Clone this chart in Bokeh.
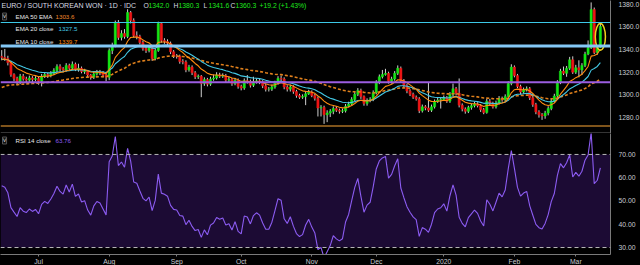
import numpy as np
from bokeh.plotting import figure
from bokeh.models import (ColumnDataSource, Span, Label, FixedTicker, Range1d,
                          BoxAnnotation, NumeralTickFormatter)
from bokeh.layouts import column
from bokeh.embed import file_html
from bokeh.resources import INLINE

# ---------------- data ----------------
closes = [1333.0, 1332.1, 1328.5, 1318.0, 1314.5, 1311.0, 1316.5, 1314.0, 1313.0, 1315.0,
          1313.5, 1314.5, 1312.0, 1316.5, 1318.0, 1317.0, 1319.0, 1321.5, 1325.0, 1323.0,
          1322.0, 1326.0, 1323.5, 1327.0, 1322.5, 1323.5, 1320.5, 1321.0, 1317.5, 1315.5,
          1318.5, 1320.0, 1319.5, 1317.5, 1315.5, 1339.1, 1343.5, 1363.8, 1350.6, 1354.1,
          1351.5, 1372.6, 1365.6, 1352.3, 1351.5, 1346.2, 1340.9, 1339.1, 1341.8, 1332.1,
          1339.1, 1362.9, 1348.0, 1347.0, 1345.5, 1338.0, 1334.5, 1334.0, 1329.5, 1329.0,
          1322.0, 1324.5, 1319.5, 1316.0, 1316.5, 1310.0, 1313.5, 1309.5, 1314.0, 1315.0,
          1317.5, 1316.5, 1317.0, 1313.0, 1313.5, 1310.0, 1313.0, 1307.5, 1306.0, 1312.5,
          1312.0, 1308.5, 1311.5, 1312.5, 1311.5, 1308.0, 1305.0, 1305.0, 1307.0, 1310.5,
          1314.5, 1314.0, 1307.0, 1305.0, 1307.0, 1303.0, 1299.5, 1298.0, 1298.5, 1301.0,
          1302.5, 1299.5, 1297.0, 1288.5, 1289.0, 1282.5, 1284.0, 1285.5, 1288.0, 1286.5,
          1285.5, 1286.0, 1290.0, 1292.0, 1296.0, 1300.5, 1304.0, 1298.5, 1292.5, 1295.0,
          1296.0, 1302.0, 1311.0, 1316.0, 1318.0, 1319.0, 1312.0, 1314.0, 1319.0, 1323.5,
          1312.5, 1308.0, 1303.5, 1300.5, 1298.0, 1296.5, 1286.0, 1289.5, 1288.5, 1286.5,
          1289.5, 1294.0, 1295.5, 1296.0, 1297.5, 1294.5, 1300.5, 1305.5, 1301.5, 1291.0,
          1287.5, 1285.5, 1289.0, 1290.5, 1292.0, 1290.5, 1287.0, 1284.5, 1294.5, 1292.5,
          1289.5, 1293.0, 1297.0, 1295.5, 1298.5, 1310.0, 1324.5, 1317.0, 1307.5, 1302.5,
          1304.5, 1305.5, 1297.5, 1291.5, 1285.0, 1282.5, 1281.5, 1284.0, 1288.0, 1294.5,
          1299.0, 1311.0, 1321.0, 1319.0, 1323.5, 1331.0, 1320.0, 1324.0, 1322.0, 1326.0,
          1336.0, 1341.5, 1375.2, 1337.4, 1342.0, 1360.3]

highs = [1339.5, 1340.5, 1334.5, 1330.0, 1319.0, 1316.0, 1318.5, 1318.5, 1316.0, 1317.0,
         1316.5, 1316.5, 1316.0, 1318.5, 1320.0, 1319.5, 1321.0, 1323.5, 1327.0, 1327.0,
         1324.5, 1328.0, 1327.5, 1329.5, 1328.5, 1327.5, 1325.0, 1323.0, 1322.0, 1318.5,
         1320.5, 1322.0, 1322.0, 1321.0, 1318.5, 1341.0, 1346.0, 1365.5, 1366.0, 1357.0,
         1358.0, 1375.5, 1374.0, 1367.5, 1356.0, 1353.0, 1348.0, 1343.0, 1344.0, 1343.0,
         1341.0, 1364.5, 1363.5, 1350.0, 1349.0, 1347.0, 1339.5, 1336.0, 1335.5, 1331.5,
         1330.5, 1326.5, 1326.0, 1321.0, 1318.0, 1317.5, 1315.5, 1315.0, 1316.0, 1318.0,
         1320.0, 1319.5, 1319.0, 1318.5, 1316.0, 1315.0, 1315.0, 1314.5, 1309.0, 1314.5,
         1317.5, 1313.5, 1316.0, 1314.5, 1314.0, 1313.0, 1309.5, 1307.0, 1309.0, 1312.5,
         1316.5, 1317.0, 1315.5, 1308.5, 1309.0, 1308.5, 1304.5, 1301.0, 1300.5, 1303.0,
         1304.5, 1304.0, 1301.0, 1298.5, 1291.0, 1290.5, 1286.5, 1287.5, 1290.0, 1290.0,
         1288.0, 1288.0, 1292.0, 1294.0, 1298.0, 1302.5, 1306.0, 1305.5, 1299.5, 1297.0,
         1298.0, 1304.0, 1313.0, 1318.0, 1322.0, 1323.0, 1320.5, 1316.0, 1321.0, 1326.0,
         1325.0, 1314.0, 1309.5, 1305.0, 1302.0, 1299.5, 1298.0, 1291.5, 1291.0, 1311.0,
         1291.5, 1296.0, 1297.5, 1298.0, 1299.5, 1299.0, 1302.5, 1310.0, 1307.0, 1314.5,
         1292.5, 1289.0, 1290.5, 1292.5, 1294.0, 1293.5, 1292.0, 1288.5, 1296.5, 1296.5,
         1294.0, 1295.0, 1299.0, 1298.5, 1300.5, 1312.0, 1327.0, 1326.0, 1318.5, 1309.0,
         1306.5, 1307.5, 1307.0, 1299.0, 1293.0, 1286.5, 1284.0, 1286.0, 1290.0, 1296.5,
         1301.0, 1313.0, 1323.0, 1325.0, 1325.5, 1333.5, 1334.0, 1326.5, 1330.5, 1328.0,
         1338.0, 1348.0, 1381.5, 1377.0, 1344.0, 1363.5]

lows = [1330.5, 1330.0, 1326.0, 1316.0, 1312.0, 1308.5, 1309.5, 1312.5, 1311.0, 1311.5,
        1311.5, 1312.0, 1309.0, 1307.5, 1315.0, 1315.0, 1315.5, 1317.5, 1320.0, 1321.0,
        1320.0, 1320.5, 1322.0, 1322.0, 1321.0, 1320.5, 1319.0, 1318.5, 1315.5, 1313.5,
        1314.0, 1317.0, 1317.5, 1315.5, 1312.0, 1313.0, 1336.0, 1342.0, 1348.5, 1348.0,
        1349.5, 1350.0, 1363.0, 1350.5, 1349.0, 1344.5, 1339.0, 1337.0, 1337.5, 1330.0,
        1330.5, 1338.0, 1346.0, 1345.0, 1343.5, 1336.0, 1332.5, 1332.0, 1327.5, 1327.0,
        1320.0, 1320.5, 1317.5, 1314.0, 1314.0, 1298.0, 1308.0, 1307.5, 1308.0, 1312.5,
        1313.5, 1315.0, 1315.0, 1311.0, 1311.0, 1308.0, 1308.5, 1305.5, 1304.0, 1304.5,
        1310.0, 1306.5, 1307.0, 1310.0, 1309.5, 1306.0, 1303.0, 1303.0, 1303.5, 1305.5,
        1309.0, 1312.0, 1305.0, 1303.0, 1303.0, 1301.0, 1297.5, 1296.5, 1296.5, 1291.0,
        1300.0, 1298.0, 1295.0, 1281.0, 1281.0, 1274.5, 1276.0, 1280.5, 1283.0, 1285.0,
        1283.5, 1284.0, 1284.5, 1289.0, 1290.5, 1294.5, 1299.0, 1296.5, 1290.5, 1290.5,
        1293.5, 1294.5, 1300.5, 1309.5, 1314.5, 1317.0, 1310.0, 1310.0, 1312.5, 1317.5,
        1310.5, 1306.0, 1301.5, 1299.0, 1296.5, 1295.0, 1284.0, 1284.5, 1286.5, 1285.0,
        1285.0, 1288.0, 1293.0, 1288.0, 1295.0, 1293.0, 1293.0, 1299.0, 1299.5, 1289.0,
        1285.5, 1283.5, 1284.0, 1287.0, 1289.0, 1289.0, 1285.0, 1283.0, 1283.5, 1291.0,
        1288.0, 1288.0, 1291.5, 1294.0, 1294.0, 1297.0, 1308.5, 1315.5, 1306.0, 1300.5,
        1301.0, 1303.0, 1295.5, 1289.5, 1283.0, 1280.0, 1278.0, 1279.0, 1282.0, 1286.5,
        1293.0, 1297.5, 1309.5, 1317.5, 1316.0, 1322.0, 1318.5, 1318.5, 1315.5, 1317.5,
        1324.5, 1335.0, 1340.5, 1336.0, 1335.5, 1341.6]

first_open = 1334.0
ema_seed = {10: 1331.0, 20: 1331.0, 50: 1305.5}
rsi_seed_gain = 4.0
rsi_seed_loss = 3.0

month_ticks = [12, 35, 57, 78, 101, 122, 144, 167, 187]
month_labels = ["Jul", "Aug", "Sep", "Oct", "Nov", "Dec", "2020", "Feb", "Mar"]
price_ticks = [1280, 1300, 1320, 1340, 1360, 1380]
rsi_ticks = [30, 40, 50, 60, 70]
levels = [1363.8, 1343.1, 1311.2, 1272.6]
rsi_bounds = [30, 70]

title_text = "EURO / SOUTH KOREAN WON · 1D · IDC"
ohlc_items = [("O", "1342.0"), ("H", "1380.3"), ("L", "1341.6"), ("C", "1360.3")]
change_text = "+19.2 (+1.43%)"
ema_legend = [("EMA 50 EMA", "1303.6"), ("EMA 20 close", "1327.5"), ("EMA 10 close", "1339.7")]
rsi_legend = ("RSI 14 close", "63.76")
last_price_text = "1360.3"
countdown_text = "16:42:18"

# ---------------- derived series ----------------
n = len(closes)
x = np.arange(n)
opens = [first_open] + closes[:-1]


def ema(vals, period, seed):
    a = 2.0 / (period + 1)
    out, prev = [], seed
    for v in vals:
        prev = prev + a * (v - prev)
        out.append(prev)
    return out


ema10 = ema(closes, 10, ema_seed[10])
ema20 = ema(closes, 20, ema_seed[20])
ema50 = ema(closes, 50, ema_seed[50])

rsi = []
ag, al, prev = rsi_seed_gain, rsi_seed_loss, first_open
for c in closes:
    ch = c - prev
    ag = (ag * 13 + max(ch, 0)) / 14
    al = (al * 13 + max(-ch, 0)) / 14
    rsi.append(100 - 100 / (1 + ag / al))
    prev = c

GREEN = "#14e614"
RED = "#ee1414"
tops = [max(o, c) for o, c in zip(opens, closes)]
bots = [min(o, c) for o, c in zip(opens, closes)]
src = ColumnDataSource(dict(
    x=x, top=tops, bottom=bots,
    high=[max(h, t) for h, t in zip(highs, tops)],
    low=[min(l, b) for l, b in zip(lows, bots)],
    color=[GREEN if c >= o else RED for o, c in zip(opens, closes)],
))

FONT = "Liberation Sans"
AX_TXT = "#c8cbd2"
AX_LINE = "#7a7a7a"
x_range = Range1d(-0.4, 198.3)

# ---------------- price pane ----------------
p1 = figure(frame_width=610, frame_height=133, x_range=x_range,
            y_range=Range1d(1266.0, 1383.2), y_axis_location="right",
            x_axis_location=None, output_backend="svg", toolbar_location=None,
            background_fill_color="black", border_fill_color="black",
            outline_line_color=None, min_border_left=0, min_border_right=30,
            min_border_top=0, min_border_bottom=0)
p1.grid.visible = False
p1.yaxis.ticker = FixedTicker(ticks=price_ticks)
p1.yaxis.formatter = NumeralTickFormatter(format="0.0")
p1.yaxis.axis_line_color = AX_LINE
p1.yaxis.major_tick_line_color = None
p1.yaxis.minor_tick_line_color = None
p1.yaxis.major_label_text_color = AX_TXT
p1.yaxis.major_label_text_font = FONT
p1.yaxis.major_label_text_font_size = "6.8px"
p1.yaxis.major_label_standoff = 2

p1.segment(x0="x", y0="low", x1="x", y1="high", source=src, line_color="#cfcfcf", line_width=1)
p1.vbar(x="x", width=0.72, top="top", bottom="bottom", source=src,
        fill_color="color", line_color="color", line_width=0.5)

p1.line(x, ema50, line_color="#e0801c", line_width=1.6, line_dash="3 2")
p1.line(x, ema20, line_color="#44c8e4", line_width=1.1)
p1.line(x, ema10, line_color="#ff8c10", line_width=1.1)

level_styles = [("#3cc8e6", 1.2, 1.0), ("#84c8f6", 3.0, 1.0), ("#9b5de0", 2.0, 1.0), ("#c8842c", 1.5, 0.85)]
for lvl, (col, lw, al_) in zip(levels, level_styles):
    p1.add_layout(Span(location=lvl, dimension="width", line_color=col, line_width=lw, line_alpha=al_))

# separator line between panes
p1.add_layout(Span(location=1266.0, dimension="width", line_color="#6a6a6a", line_width=2))

# highlight ellipse around last candle
p1.ellipse(x=[x[-1]], y=[(opens[-1] + closes[-1]) / 2], width=3.3, height=23.5,
           fill_color=None, line_color="#f2d21b", line_width=1.5)

H1 = 133


def lab(fig, px, py_top, text, color, size="6.5px", h=H1, **kw):
    L = Label(x=px, y=h - py_top, x_units="screen", y_units="screen", text=text,
              text_color=color, text_font=FONT, text_font_size=size,
              text_baseline="middle", **kw)
    fig.add_layout(L)
    return L


lab(p1, 1, 5, title_text, "#d8dae0", size="7px")
ohlc_x = [143, 173, 203, 230]
for (letter, val), ox in zip(ohlc_items, ohlc_x):
    lab(p1, ox, 5, letter, "#d8dae0", size="6.8px")
    lab(p1, ox + 5, 5, val, "#1ee61e", size="6.8px")
lab(p1, 259, 5, change_text, "#1ee61e", size="6.8px")

lab(p1, 2, 16, "˅", "#d0d0d0", size="7px", border_line_color="#555555",
    background_fill_color="#111111")
row_y = [16, 28, 41]
val_x = [55, 58, 58]
val_colors = ["#f08a2c", "#44c8e4", "#ff8c10"]
for (name, val), ry, vx, vc in zip(ema_legend, row_y, val_x, val_colors):
    lab(p1, 15, ry, name, "#e6e6e6", size="6.2px")
    lab(p1, vx, ry, val, vc, size="6.2px")

# price labels on the right axis
ppu = 133 / (1383.2 - 1266.0)
for txt, yv in [(last_price_text, closes[-1]), (countdown_text, closes[-1] - 8.5 / ppu)]:
    L = Label(x=611, y=yv, x_units="screen", y_units="data", text=txt,
              text_color="#0c3a0c", text_font=FONT, text_font_size="6.3px",
              text_baseline="middle", background_fill_color="#1ee61e")
    try:
        L.padding = 1
    except Exception:
        pass
    p1.add_layout(L)

# ---------------- RSI pane ----------------
p2 = figure(frame_width=610, frame_height=121, x_range=x_range,
            y_range=Range1d(27.0, 79.0), y_axis_location="right",
            output_backend="svg", toolbar_location=None,
            background_fill_color="black", border_fill_color="black",
            outline_line_color=None, min_border_left=0, min_border_right=30,
            min_border_top=0, min_border_bottom=0)
p2.grid.visible = False
p2.add_layout(BoxAnnotation(bottom=rsi_bounds[0], top=rsi_bounds[1], fill_color="#1c0b34",
                            fill_alpha=1.0, line_color=None, level="underlay"))
for b in rsi_bounds:
    p2.add_layout(Span(location=b, dimension="width", line_color="#b8b8b8",
                       line_width=1, line_dash="4 3"))
p2.line(x, rsi, line_color="#8c5cf2", line_width=1.1)

p2.yaxis.ticker = FixedTicker(ticks=rsi_ticks)
p2.yaxis.formatter = NumeralTickFormatter(format="0.00")
p2.yaxis.axis_line_color = AX_LINE
p2.yaxis.major_tick_line_color = None
p2.yaxis.minor_tick_line_color = None
p2.yaxis.major_label_text_color = AX_TXT
p2.yaxis.major_label_text_font = FONT
p2.yaxis.major_label_text_font_size = "6.8px"
p2.yaxis.major_label_standoff = 2

p2.xaxis.ticker = FixedTicker(ticks=month_ticks)
p2.xaxis.major_label_overrides = {t: s for t, s in zip(month_ticks, month_labels)}
p2.xaxis.axis_line_color = AX_LINE
p2.xaxis.major_tick_line_color = AX_LINE
p2.xaxis.major_tick_out = 2
p2.xaxis.major_tick_in = 0
p2.xaxis.minor_tick_line_color = None
p2.xaxis.major_label_text_color = AX_TXT
p2.xaxis.major_label_text_font = FONT
p2.xaxis.major_label_text_font_size = "6.8px"
p2.xaxis.major_label_standoff = 1

H2 = 121
lab(p2, 2, 7, "˅", "#d0d0d0", size="7px", h=H2, border_line_color="#555555",
    background_fill_color="#111111")
lab(p2, 15, 7, rsi_legend[0], "#e6e6e6", size="6.2px", h=H2)
lab(p2, 55, 7, rsi_legend[1], "#8c5cf2", size="6.2px", h=H2)

layout = column(p1, p2, spacing=0, styles={"background-color": "black"})
open("out.html", "w").write(file_html(layout, INLINE))
